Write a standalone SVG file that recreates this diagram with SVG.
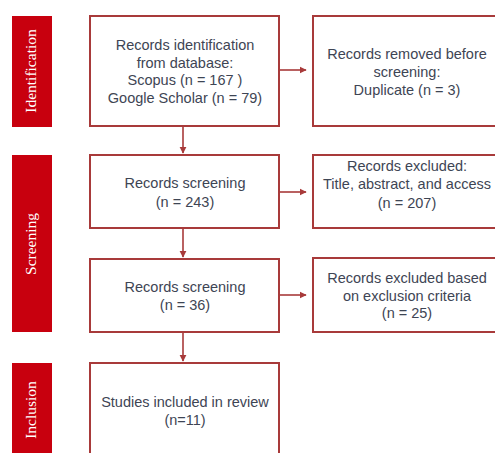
<svg xmlns="http://www.w3.org/2000/svg" width="495" height="453" viewBox="0 0 495 453">
<defs>
<style>
.bar{fill:#c8000e}
.box{fill:#fff;stroke:#a83a3a;stroke-width:2}
.lbl{font-family:"Liberation Serif","Times New Roman",serif;font-size:15.5px;fill:#fff;text-anchor:middle}
.t{font-family:"Liberation Sans",Arial,sans-serif;font-size:14.5px;fill:#3e4554;text-anchor:middle}
.c{stroke:#a83a3a;stroke-width:1.6;fill:none;marker-end:url(#ah)}
</style>
<marker id="ah" viewBox="0 0 10 10" refX="9" refY="5" markerWidth="4.5" markerHeight="4.5" orient="auto">
<path d="M0,0 L10,5 L0,10 z" fill="#a83a3a"/>
</marker>
</defs>
<rect width="495" height="453" fill="#fff"/>
<g id="phase-identification">
<rect class="bar" x="12" y="16" width="40" height="111"/>
<text class="lbl" transform="translate(36,71) rotate(-90)">Identification</text>
</g>
<g id="phase-screening">
<rect class="bar" x="12" y="155" width="40" height="177"/>
<text class="lbl" transform="translate(36,244) rotate(-90)">Screening</text>
</g>
<g id="phase-inclusion">
<rect class="bar" x="12" y="363" width="40" height="95"/>
<text class="lbl" transform="translate(36,410) rotate(-90)">Inclusion</text>
</g>
<g id="identification">
<rect class="box" x="90" y="16" width="189" height="110"/>
<text class="t" x="185" y="50">Records identification</text>
<text class="t" x="185" y="68">from database:</text>
<text class="t" x="185" y="85">Scopus (n = 167 )</text>
<text class="t" x="185" y="103">Google Scholar (n = 79)</text>
</g>
<g id="removed">
<rect class="box" x="313" y="16" width="190" height="110"/>
<text class="t" x="407" y="59">Records removed before</text>
<text class="t" x="407" y="77">screening:</text>
<text class="t" x="407" y="95">Duplicate (n = 3)</text>
</g>
<g id="screening1">
<rect class="box" x="90" y="155" width="189" height="73"/>
<text class="t" x="185" y="188">Records screening</text>
<text class="t" x="185" y="207">(n = 243)</text>
</g>
<g id="excluded1">
<rect class="box" x="313" y="155" width="190" height="73"/>
<text class="t" x="407" y="171">Records excluded:</text>
<text class="t" x="407" y="189">Title, abstract, and access</text>
<text class="t" x="407" y="208">(n = 207)</text>
</g>
<g id="screening2">
<rect class="box" x="90" y="259" width="189" height="73"/>
<text class="t" x="185" y="292">Records screening</text>
<text class="t" x="185" y="310">(n = 36)</text>
</g>
<g id="excluded2">
<rect class="box" x="313" y="258" width="190" height="74"/>
<text class="t" x="407" y="283">Records excluded based</text>
<text class="t" x="407" y="301">on exclusion criteria</text>
<text class="t" x="407" y="318">(n = 25)</text>
</g>
<g id="included">
<rect class="box" x="90" y="363" width="189" height="100"/>
<text class="t" x="185" y="407">Studies included in review</text>
<text class="t" x="185" y="425">(n=11)</text>
</g>
<g id="connectors">
<path class="c" d="M183,127 V153"/>
<path class="c" d="M183,229 V257"/>
<path class="c" d="M183,333 V361"/>
<path class="c" d="M280,70 H306"/>
<path class="c" d="M280,192 H306"/>
<path class="c" d="M280,295 H306"/>
</g>
</svg>
